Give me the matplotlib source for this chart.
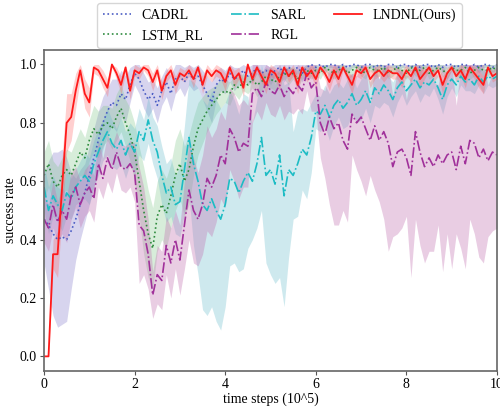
import numpy as np
import matplotlib
matplotlib.use("Agg")
from matplotlib import pyplot as plt

plt.rcParams['font.family'] = ['Liberation Serif', 'DejaVu Serif']

# time steps (10^5), one sample every 0.1
steps = np.linspace(0, 10, 101)

cadrl = [0.47, 0.45, 0.42, 0.40, 0.41, 0.40, 0.43, 0.47, 0.52, 0.56,
         0.62, 0.68, 0.74, 0.80, 0.84, 0.87, 0.86, 0.90, 0.88, 0.93,
         0.97, 0.95, 0.91, 0.88, 0.90, 0.86, 0.91, 0.94, 0.90, 0.95,
         0.96, 0.94, 0.97, 0.95, 0.96, 0.93, 0.90, 0.87, 0.93, 0.95,
         0.94, 0.97, 0.95, 0.96, 0.98, 0.96, 0.97, 0.99, 0.97, 0.98,
         0.96, 0.98, 0.99, 0.97, 0.99, 0.98, 0.99, 0.97, 0.99, 1.00,
         0.99, 1.00, 0.99, 1.00, 1.00, 0.99, 1.00, 0.99, 1.00, 1.00,
         0.99, 1.00, 1.00, 0.99, 1.00, 0.99, 1.00, 1.00, 0.99, 1.00,
         1.00, 0.99, 1.00, 0.99, 1.00, 1.00, 0.99, 1.00, 0.99, 1.00,
         1.00, 0.99, 1.00, 1.00, 0.99, 1.00, 0.99, 1.00, 1.00, 0.99,
         1.00]
cadrl_std = [0.15, 0.22, 0.28, 0.30, 0.30, 0.28, 0.20, 0.14, 0.12, 0.10,
             0.10, 0.10, 0.10, 0.09, 0.08, 0.08, 0.09, 0.08, 0.08, 0.06,
             0.04, 0.05, 0.06, 0.06, 0.05, 0.06, 0.05, 0.05, 0.06, 0.05,
             0.04, 0.05, 0.04, 0.04, 0.04, 0.05, 0.06, 0.07, 0.05, 0.04,
             0.04, 0.03, 0.04, 0.03, 0.03, 0.03, 0.03, 0.02, 0.03, 0.02,
             0.03, 0.02, 0.02, 0.03, 0.02, 0.02, 0.02, 0.03, 0.02, 0.01,
             0.02, 0.01, 0.02, 0.01, 0.01, 0.02, 0.01, 0.02, 0.01, 0.01,
             0.02, 0.01, 0.01, 0.02, 0.01, 0.02, 0.01, 0.01, 0.02, 0.01,
             0.01, 0.02, 0.01, 0.02, 0.01, 0.01, 0.02, 0.01, 0.02, 0.01,
             0.01, 0.02, 0.01, 0.01, 0.02, 0.01, 0.02, 0.01, 0.01, 0.02,
             0.01]

lstm_rl = [0.62, 0.66, 0.60, 0.58, 0.62, 0.64, 0.62, 0.66, 0.70, 0.68,
           0.74, 0.78, 0.76, 0.79, 0.80, 0.78, 0.82, 0.85, 0.80, 0.76,
           0.70, 0.60, 0.50, 0.42, 0.37, 0.48, 0.52, 0.49, 0.55, 0.62,
           0.66, 0.60, 0.64, 0.72, 0.78, 0.81, 0.84, 0.86, 0.88, 0.90,
           0.91, 0.90, 0.93, 0.92, 0.94, 0.93, 0.95, 0.93, 0.94, 0.96,
           0.95, 0.94, 0.96, 0.97, 0.96, 0.97, 0.95, 0.97, 0.98, 0.97,
           0.98, 0.97, 0.99, 0.98, 0.97, 0.98, 0.99, 0.97, 0.98, 0.99,
           0.98, 0.97, 0.99, 0.98, 0.98, 0.99, 0.97, 0.98, 0.99, 0.98,
           0.97, 0.99, 0.98, 0.98, 0.99, 0.97, 0.98, 0.99, 0.98, 0.97,
           0.99, 0.98, 0.98, 0.99, 0.97, 0.98, 0.99, 0.98, 0.98, 0.99,
           0.98]
lstm_rl_std = [0.08, 0.08, 0.07, 0.07, 0.06, 0.07, 0.08, 0.08, 0.08, 0.07,
               0.07, 0.08, 0.08, 0.07, 0.06, 0.07, 0.08, 0.08, 0.08, 0.09,
               0.10, 0.12, 0.15, 0.15, 0.14, 0.12, 0.12, 0.12, 0.11, 0.12,
               0.12, 0.12, 0.12, 0.10, 0.09, 0.08, 0.07, 0.06, 0.05, 0.05,
               0.04, 0.04, 0.03, 0.04, 0.03, 0.03, 0.03, 0.04, 0.03, 0.03,
               0.03, 0.03, 0.02, 0.02, 0.03, 0.02, 0.03, 0.02, 0.02, 0.02,
               0.02, 0.02, 0.01, 0.02, 0.02, 0.02, 0.01, 0.02, 0.02, 0.01,
               0.02, 0.02, 0.01, 0.02, 0.02, 0.01, 0.02, 0.02, 0.01, 0.02,
               0.02, 0.01, 0.02, 0.02, 0.01, 0.02, 0.02, 0.01, 0.02, 0.02,
               0.01, 0.02, 0.02, 0.01, 0.02, 0.02, 0.01, 0.02, 0.02, 0.01,
               0.02]

sarl = [0.58, 0.50, 0.55, 0.52, 0.50, 0.56, 0.54, 0.58, 0.60, 0.62,
        0.60, 0.66, 0.70, 0.74, 0.77, 0.73, 0.71, 0.74, 0.69, 0.73,
        0.70, 0.77, 0.74, 0.81, 0.74, 0.70, 0.62, 0.56, 0.58, 0.52,
        0.53, 0.64, 0.75, 0.66, 0.60, 0.52, 0.50, 0.54, 0.50, 0.47,
        0.52, 0.61, 0.60, 0.56, 0.60, 0.63, 0.60, 0.66, 0.75, 0.62,
        0.64, 0.59, 0.69, 0.55, 0.64, 0.62, 0.66, 0.71, 0.69, 0.75,
        0.84, 0.83, 0.86, 0.82, 0.86, 0.88, 0.85, 0.87, 0.90, 0.86,
        0.88, 0.91, 0.87, 0.92, 0.90, 0.93, 0.91, 0.88, 0.92, 0.94,
        0.91, 0.93, 0.95, 0.92, 0.94, 0.93, 0.95, 0.92, 0.88, 0.93,
        0.95, 0.93, 0.96, 0.94, 0.95, 0.93, 0.96, 0.94, 0.96, 0.95,
        0.96]
sarl_std = [0.08, 0.08, 0.07, 0.06, 0.07, 0.08, 0.07, 0.06, 0.07, 0.08,
            0.08, 0.08, 0.08, 0.07, 0.08, 0.08, 0.07, 0.08, 0.08, 0.07,
            0.08, 0.08, 0.07, 0.08, 0.08, 0.09, 0.10, 0.10, 0.10, 0.10,
            0.12, 0.15, 0.20, 0.28, 0.32, 0.36, 0.36, 0.37, 0.38, 0.38,
            0.35, 0.30, 0.28, 0.27, 0.30, 0.26, 0.20, 0.22, 0.25, 0.30,
            0.36, 0.34, 0.42, 0.38, 0.30, 0.15, 0.18, 0.14, 0.15, 0.12,
            0.06, 0.06, 0.07, 0.08, 0.07, 0.06, 0.07, 0.08, 0.07, 0.06,
            0.07, 0.06, 0.07, 0.06, 0.05, 0.06, 0.05, 0.06, 0.05, 0.04,
            0.05, 0.04, 0.04, 0.05, 0.04, 0.04, 0.03, 0.04, 0.05, 0.04,
            0.03, 0.04, 0.03, 0.03, 0.04, 0.03, 0.03, 0.04, 0.03, 0.03,
            0.03]

rgl = [0.47, 0.44, 0.52, 0.46, 0.50, 0.47, 0.55, 0.58, 0.52, 0.56,
       0.58, 0.54, 0.66, 0.61, 0.68, 0.64, 0.70, 0.65, 0.64, 0.66,
       0.63, 0.45, 0.43, 0.35, 0.21, 0.28, 0.26, 0.38, 0.32, 0.40,
       0.33, 0.45, 0.57, 0.50, 0.47, 0.52, 0.61, 0.58, 0.62, 0.69,
       0.66, 0.78, 0.75, 0.70, 0.73, 0.72, 0.90, 0.92, 0.89, 0.94,
       0.91, 0.90, 0.93, 0.89, 0.92, 0.90, 0.93, 0.91, 0.97, 0.92,
       0.94, 0.80, 0.76, 0.82, 0.78, 0.80, 0.74, 0.71, 0.83, 0.80,
       0.82, 0.78, 0.74, 0.79, 0.74, 0.77, 0.73, 0.65, 0.70, 0.71,
       0.68, 0.62, 0.77, 0.70, 0.65, 0.68, 0.65, 0.69, 0.66, 0.69,
       0.70, 0.64, 0.72, 0.66, 0.74, 0.73, 0.68, 0.71, 0.67, 0.70,
       0.69]
rgl_std = [0.08, 0.08, 0.08, 0.07, 0.08, 0.08, 0.08, 0.07, 0.08, 0.08,
           0.08, 0.08, 0.08, 0.07, 0.08, 0.08, 0.07, 0.08, 0.08, 0.08,
           0.10, 0.20, 0.15, 0.12, 0.08, 0.10, 0.10, 0.10, 0.12, 0.10,
           0.12, 0.15, 0.17, 0.18, 0.16, 0.17, 0.18, 0.17, 0.16, 0.15,
           0.15, 0.14, 0.15, 0.16, 0.15, 0.14, 0.10, 0.08, 0.08, 0.07,
           0.08, 0.08, 0.07, 0.08, 0.08, 0.07, 0.08, 0.08, 0.06, 0.08,
           0.10, 0.12, 0.15, 0.30, 0.33, 0.35, 0.24, 0.25, 0.14, 0.16,
           0.22, 0.23, 0.12, 0.22, 0.21, 0.30, 0.37, 0.24, 0.28, 0.27,
           0.20, 0.35, 0.30, 0.32, 0.33, 0.32, 0.29, 0.24, 0.37, 0.27,
           0.40, 0.22, 0.35, 0.36, 0.27, 0.31, 0.34, 0.39, 0.26, 0.27,
           0.25]

lndnl = [0.00, 0.00, 0.35, 0.35, 0.58, 0.80, 0.82, 0.91, 0.98, 0.90,
         0.87, 0.99, 0.98, 0.95, 0.92, 1.00, 0.97, 0.93, 0.99, 0.91,
         0.98, 0.97, 0.99, 0.98, 0.94, 0.98, 0.91, 0.96, 0.98, 0.93,
         0.97, 0.96, 0.98, 0.95, 0.99, 0.93, 0.98, 0.96, 0.98, 0.97,
         0.94, 0.99, 0.95, 0.97, 0.92, 1.00, 0.95, 0.99, 0.96, 0.93,
         0.98, 0.97, 0.94, 0.99, 0.96, 0.98, 0.93, 0.99, 0.96, 0.98,
         0.95, 0.99, 0.97, 0.94, 0.98, 0.95, 0.99, 0.96, 0.93, 0.98,
         0.97, 0.99, 0.95, 0.97, 0.98, 0.96, 0.98, 0.97, 0.97, 0.95,
         0.98, 0.96, 0.99, 0.95, 0.97, 0.99, 0.96, 0.98, 0.93, 0.97,
         0.99, 0.96, 0.98, 0.95, 0.99, 0.97, 0.95, 0.93, 0.99, 0.96,
         0.97]
lndnl_std = [0.00, 0.00, 0.05, 0.08, 0.10, 0.10, 0.08, 0.06, 0.03, 0.05,
             0.05, 0.02, 0.02, 0.03, 0.03, 0.01, 0.02, 0.03, 0.02, 0.03,
             0.02, 0.02, 0.01, 0.02, 0.03, 0.02, 0.03, 0.02, 0.02, 0.03,
             0.02, 0.02, 0.02, 0.03, 0.01, 0.03, 0.02, 0.02, 0.02, 0.02,
             0.03, 0.01, 0.03, 0.02, 0.03, 0.01, 0.02, 0.01, 0.02, 0.03,
             0.02, 0.02, 0.03, 0.01, 0.02, 0.02, 0.03, 0.01, 0.02, 0.02,
             0.03, 0.01, 0.02, 0.03, 0.02, 0.03, 0.01, 0.02, 0.03, 0.02,
             0.02, 0.01, 0.03, 0.02, 0.02, 0.02, 0.02, 0.02, 0.02, 0.03,
             0.02, 0.02, 0.01, 0.03, 0.02, 0.01, 0.02, 0.02, 0.03, 0.02,
             0.01, 0.02, 0.02, 0.03, 0.01, 0.02, 0.03, 0.03, 0.01, 0.02,
             0.02]

names = ['CADRL', 'LSTM_RL', 'SARL', 'RGL', 'LNDNL(Ours)']

fig = plt.figure(figsize=(5, 4.09), dpi=100)
ax = fig.add_axes([0.088, 0.093, 0.906, 0.785])

series = [
    (cadrl, cadrl_std, '#4a5cc4', '#7b72c8', ':', 0.30),
    (lstm_rl, lstm_rl_std, '#2e8b3e', '#7cc487', ':', 0.30),
    (sarl, sarl_std, '#1cbcc4', '#5fb8c8', '-.', 0.30),
    (rgl, rgl_std, '#a0309a', '#c270b0', '-.', 0.35),
    (lndnl, lndnl_std, '#ff1a1a', '#ff6060', '-', 0.30),
]
for (mean, std, c, fc, ls, a), name in zip(series, names):
    mean = np.array(mean)
    std = np.array(std)
    ax.fill_between(steps, mean - std, np.minimum(mean + std, 1.0),
                    color=fc, alpha=a, linewidth=0)
    lw = 1.3 if ls == '-' else 1.2
    ax.plot(steps, mean, color=c, linestyle=ls, linewidth=lw, label=name)

ax.set_xlim(0, 10)
ax.set_ylim(-0.05, 1.05)
ax.set_xticks([0, 2, 4, 6, 8, 10])
ax.set_yticks([0.0, 0.2, 0.4, 0.6, 0.8, 1.0])
ax.set_yticklabels(['0.0', '0.2', '0.4', '0.6', '0.8', '1.0'])
ax.set_xlabel('time steps (10^5)', fontsize=10, labelpad=1)
ax.set_ylabel('success rate', fontsize=10, labelpad=2)
ax.tick_params(labelsize=10, length=3, color='#555555', pad=2)
for s in ax.spines.values():
    s.set_color('#666666')
    s.set_linewidth(1.2)

ax.legend(loc='lower center', bbox_to_anchor=(0.52, 1.0), ncol=3,
          fontsize=10, frameon=True, edgecolor='#cccccc',
          borderaxespad=0.15, handlelength=2.0, columnspacing=2.0)

plt.savefig('out.png', dpi=100)
